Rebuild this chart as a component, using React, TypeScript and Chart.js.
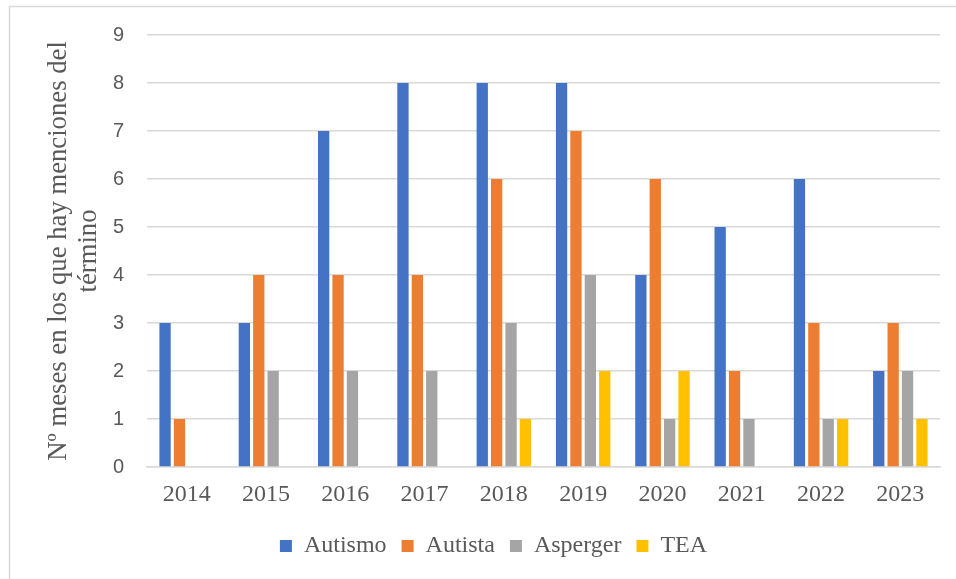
import React, { useEffect, useRef } from "react";
import { Chart, registerables } from "chart.js";

Chart.register(...registerables);

const years = ["2014", "2015", "2016", "2017", "2018", "2019", "2020", "2021", "2022", "2023"];
const autismo = [3, 3, 7, 8, 8, 8, 4, 5, 6, 2];
const autista = [1, 4, 4, 4, 6, 7, 6, 2, 3, 3];
const asperger = [0, 2, 2, 2, 3, 4, 1, 1, 1, 2];
const tea = [0, 0, 0, 0, 1, 2, 2, 0, 1, 1];
const seriesNames = ["Autismo", "Autista", "Asperger", "TEA"];
const seriesColors = ["#4472C4", "#ED7D31", "#A5A5A5", "#FFC000"];
const yTitle = ["Nº meses en los que hay menciones del", "término"];

const TEXT = "#595959";
const GRID = "#D9D9D9";
const SERIF = "'Liberation Serif', 'Times New Roman', serif";
const SANS = "'Liberation Sans', Arial, sans-serif";

const frame = {
  id: "frame",
  beforeDraw(chart: any) {
    const ctx = chart.ctx;
    ctx.save();
    ctx.fillStyle = "#ffffff";
    ctx.fillRect(0, 0, chart.width, chart.height);
    ctx.strokeStyle = GRID;
    ctx.lineWidth = 1.5;
    ctx.beginPath();
    ctx.moveTo(9.5, chart.height);
    ctx.lineTo(9.5, 6.5);
    ctx.lineTo(chart.width, 6.5);
    ctx.stroke();
    ctx.restore();
  },
};

export default function App() {
  const ref = useRef<HTMLCanvasElement>(null);
  useEffect(() => {
    if (!ref.current) return;
    const values = [autismo, autista, asperger, tea];
    const chart = new Chart(ref.current, {
      type: "bar",
      data: {
        labels: years,
        datasets: seriesNames.map((name, i) => ({
          label: name,
          data: values[i],
          backgroundColor: seriesColors[i],
          borderWidth: 0,
          categoryPercentage: 0.726,
          barPercentage: 0.785,
        })),
      },
      options: {
        animation: false,
        responsive: false,
        devicePixelRatio: 1,
        layout: { padding: { top: 35, right: 16, bottom: 11, left: 47 } },
        plugins: {
          tooltip: { enabled: false },
          legend: {
            position: "bottom",
            labels: {
              boxWidth: 12,
              boxHeight: 12,
              padding: 15,
              color: TEXT,
              font: { family: SERIF, size: 24 },
            },
          },
        },
        scales: {
          x: {
            grid: { display: false, drawTicks: false },
            border: { display: true, color: GRID, width: 1.5 },
            ticks: { color: TEXT, padding: 13, font: { family: SERIF, size: 24 } },
            afterFit(scale: any) {
              scale.height = 52;
            },
          },
          y: {
            min: 0,
            max: 9,
            ticks: { stepSize: 1, color: TEXT, padding: 23, font: { family: SANS, size: 20 } },
            grid: { color: GRID, lineWidth: 1.5, drawTicks: false },
            border: { display: false },
            title: {
              display: true,
              text: yTitle,
              color: TEXT,
              font: { family: SERIF, size: 26.7, lineHeight: 1.12 },
              padding: { top: -3, bottom: 0 },
            },
            afterFit(scale: any) {
              scale.width = 100;
            },
          },
        },
      },
      plugins: [frame],
    });
    return () => chart.destroy();
  }, []);
  return (
    <div style={{ position: "fixed", left: 0, top: 0, width: 956, height: 579, background: "#fff" }}>
      <canvas ref={ref} width={956} height={579} style={{ width: 956, height: 579, display: "block" }} />
    </div>
  );
}
